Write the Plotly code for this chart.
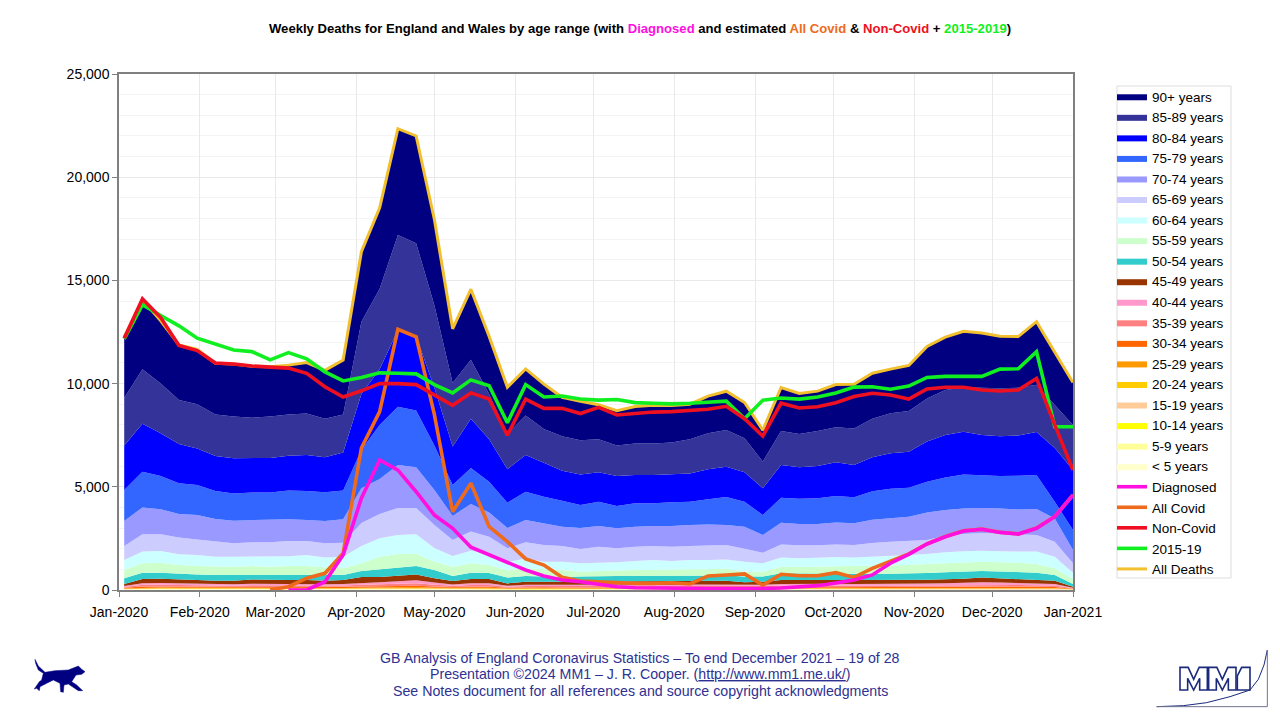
import pandas as pd
import plotly.graph_objects as go

weeks = pd.date_range("2020-01-03", periods=53, freq="7D")

# Cumulative band tops read from the stacked areas (deaths per week)
top_90_plus = [12254,14058,13045,11869,11653,10986,10944,10841,10816,10895,11019,10645,11141,16387,18516,22351,21997,17953,12657,14573,12288,9824,10709,9976,9339,9140,8979,8690,8891,8946,8945,9000,9392,9631,9083,7739,9811,9523,9634,9954,9970,10500,10700,10880,11800,12250,12530,12450,12300,12280,13000,11500,10050]
top_85_89 = [9300,10700,10000,9200,9000,8500,8400,8350,8400,8500,8550,8300,8500,13000,14600,17200,16800,13800,10030,11150,9500,7550,8450,7800,7450,7250,7300,7000,7100,7100,7150,7300,7600,7750,7350,6220,7700,7560,7700,7880,7830,8300,8560,8670,9280,9690,9820,9800,9780,9800,9950,8960,8000]
top_80_84 = [7000,8050,7600,7070,6860,6490,6380,6400,6400,6500,6540,6430,6660,9500,10700,12600,12300,9800,6950,8300,7300,5850,6540,6170,5780,5600,5700,5520,5570,5570,5600,5650,5850,5970,5700,4930,6060,5950,6010,6190,6060,6430,6620,6700,7190,7510,7670,7510,7450,7480,7660,6880,5810]
top_75_79 = [4850,5730,5520,5170,5090,4800,4680,4720,4720,4820,4800,4740,4820,6800,8000,8880,8700,7000,5090,5910,5250,4230,4760,4520,4330,4120,4280,4070,4200,4200,4250,4280,4400,4500,4280,3630,4470,4420,4450,4560,4490,4780,4900,4950,5250,5450,5590,5570,5520,5540,5570,4280,2910]
top_70_74 = [3340,4000,3910,3680,3630,3440,3360,3390,3390,3430,3390,3340,3430,4930,5380,6060,5950,4850,3590,4170,3750,3000,3390,3230,3070,3000,3100,2990,3070,3100,3100,3150,3170,3150,3070,2670,3260,3200,3200,3270,3230,3400,3480,3550,3750,3870,3950,3970,3950,3900,3920,3470,1940]
top_65_69 = [2130,2700,2700,2540,2450,2340,2260,2310,2310,2370,2370,2260,2290,3250,3680,3970,3970,3150,2420,2830,2580,2020,2310,2180,2130,1990,2100,2020,2100,2130,2100,2130,2150,2180,2000,1810,2210,2170,2170,2200,2180,2280,2340,2380,2420,2620,2710,2760,2720,2690,2670,2340,1300]
top_60_64 = [1450,1860,1890,1730,1700,1610,1610,1610,1610,1640,1700,1580,1610,2130,2510,2670,2700,2030,1650,1900,1740,1350,1530,1370,1370,1300,1320,1340,1400,1450,1400,1450,1450,1480,1370,1290,1570,1540,1560,1600,1580,1630,1660,1700,1740,1830,1880,1900,1880,1860,1860,1610,840]
top_55_59 = [970,1290,1320,1210,1160,1130,1130,1160,1130,1160,1160,1100,1050,1290,1610,1740,1760,1370,1130,1290,1210,950,1050,1000,970,890,920,920,970,970,970,1000,1010,1030,890,890,1130,1120,1130,1150,1160,1170,1190,1210,1260,1300,1340,1370,1340,1320,1260,1050,530]
top_50_54 = [570,840,840,780,750,730,730,750,750,750,750,730,730,920,1000,1050,1160,970,680,840,820,600,680,650,620,650,680,680,680,680,680,700,700,700,650,650,810,800,800,790,780,780,790,800,820,860,890,920,900,880,840,730,290]
top_45_49 = [290,530,550,500,480,450,450,510,480,480,480,450,480,630,630,680,750,570,440,530,530,320,400,400,390,400,440,400,420,420,420,440,440,450,380,400,480,490,480,490,480,480,490,490,500,520,540,600,560,530,500,450,160]
top_40_44 = [190,330,340,320,300,280,280,300,290,290,290,280,290,350,380,420,470,360,270,330,330,210,260,260,250,260,270,260,270,260,260,270,270,270,240,250,290,300,290,300,290,290,300,300,310,330,350,380,360,340,320,290,110]
top_35_39 = [150,250,260,240,225,215,210,225,220,220,220,210,215,260,280,300,330,260,205,240,240,160,195,190,185,190,195,190,195,190,190,195,200,200,180,185,215,220,215,220,215,215,220,220,225,240,255,270,260,245,235,215,85]
top_30_34 = [105,165,170,160,150,145,140,150,145,145,145,140,145,170,185,195,210,170,140,160,160,110,130,130,125,130,130,130,130,130,130,130,135,135,120,125,145,150,145,150,145,145,150,150,150,160,170,180,170,165,155,145,60]
top_25_29 = [75,115,120,110,105,100,100,105,100,100,100,100,100,115,125,130,140,115,95,110,110,75,90,90,85,90,90,90,90,90,90,90,90,90,85,85,100,100,100,100,100,100,100,100,105,110,115,120,115,110,105,100,45]
top_20_24 = [55,85,85,80,75,75,72,75,72,72,72,72,72,80,85,90,95,80,68,78,78,55,65,65,62,65,65,65,65,65,65,65,65,65,60,62,70,72,72,72,72,72,72,72,75,78,80,85,80,78,75,72,35]
top_15_19 = [44,66,66,62,60,58,56,58,56,56,56,56,56,62,66,70,74,62,53,60,60,43,50,50,48,50,50,50,50,50,50,50,50,50,47,48,54,56,56,56,56,56,56,56,58,60,62,66,62,60,58,56,28]
top_10_14 = [40,60,60,56,54,52,50,52,50,50,50,50,50,56,60,63,66,56,48,54,54,39,45,45,44,45,45,45,45,45,45,45,45,45,42,43,49,50,50,50,50,50,50,50,52,54,56,59,56,54,52,50,25]
top_5_9 = [36,55,55,51,49,47,46,47,46,46,46,46,46,51,54,57,60,51,43,49,49,35,41,41,40,41,41,41,41,41,41,41,41,41,38,39,44,45,45,45,45,45,45,45,47,49,51,54,51,49,47,45,22]
top_under_5 = [32,50,50,46,44,43,42,43,42,42,42,42,42,46,49,52,55,46,39,44,44,32,37,37,36,37,37,37,37,37,37,37,37,37,35,35,40,41,41,41,41,41,41,41,43,45,46,49,46,45,43,41,20]

diagnosed = [None,None,None,None,None,None,None,None,None,0,0,400,1700,4450,6300,5810,4760,3630,2990,2070,1700,1320,970,680,480,400,290,160,110,90,75,70,70,65,60,70,100,160,210,340,480,730,1300,1730,2230,2580,2860,2940,2790,2710,2990,3550,4600]
all_covid = [None,None,None,None,None,None,None,None,0,160,570,810,1780,6880,8640,12630,12270,8500,3790,5170,3070,2340,1510,1210,620,430,400,350,320,320,350,290,680,730,780,240,760,690,690,840,610,1050,1420,1750,2240,2590,2870,2950,2800,2720,3000,3560,4610]
non_covid = [12200,14100,13200,11850,11600,11000,10950,10850,10800,10750,10500,9850,9350,9650,10000,10000,9950,9450,8950,9550,9250,7500,9250,8800,8800,8550,8850,8480,8560,8620,8640,8700,8760,8900,8300,7460,9050,8820,8880,9070,9370,9530,9450,9250,9740,9820,9820,9690,9640,9690,10250,8000,5810]
avg_2015_19 = [12170,13820,13300,12800,12200,11900,11630,11550,11150,11500,11200,10570,10130,10300,10520,10500,10470,9950,9550,10180,9900,8100,9950,9350,9400,9250,9200,9230,9080,9050,9020,9050,9100,9150,8300,9200,9300,9250,9350,9550,9830,9850,9730,9880,10300,10350,10350,10350,10700,10720,11550,7910,7910]
all_deaths = top_90_plus

band_names = ["90+ years","85-89 years","80-84 years","75-79 years","70-74 years","65-69 years","60-64 years","55-59 years","50-54 years","45-49 years","40-44 years","35-39 years","30-34 years","25-29 years","20-24 years","15-19 years","10-14 years","5-9 years","< 5 years"]
band_tops = [top_90_plus,top_85_89,top_80_84,top_75_79,top_70_74,top_65_69,top_60_64,top_55_59,top_50_54,top_45_49,top_40_44,top_35_39,top_30_34,top_25_29,top_20_24,top_15_19,top_10_14,top_5_9,top_under_5]
band_colors = ["#000080","#333399","#0000FF","#3366FF","#9999FF","#CCCCFF","#CCFFFF","#CCFFCC","#33CCCC","#993300","#FF99CC","#FF8080","#FF6600","#FF9900","#FFCC00","#FFCC99","#FFFF00","#FFFF99","#FFFFCC"]

FONT = "Liberation Sans"
PL, PR, PT, PB = 119, 1073, 74, 590
def px(x): return (x - PL) / (PR - PL)
def py(y): return (PB - y) / (PB - PT)

fig = go.Figure()
for rank in range(len(band_names) - 1, -1, -1):
    fig.add_trace(go.Scatter(
        x=weeks, y=band_tops[rank], name=band_names[rank], mode="lines",
        line=dict(width=0, color=band_colors[rank]), fillcolor=band_colors[rank],
        fill="tozeroy" if rank == len(band_names) - 1 else "tonexty",
        legendrank=rank + 1, hoverinfo="x+y+name"))

lines = [("All Deaths", all_deaths, "#F2BF2E", 3, 24),
         ("All Covid", all_covid, "#EE6A1C", 3.6, 21),
         ("Diagnosed", diagnosed, "#FF10E0", 3.6, 20),
         ("2015-19", avg_2015_19, "#10F020", 3.6, 23),
         ("Non-Covid", non_covid, "#EE1020", 3.6, 22)]
for name, vals, color, width, rank in lines:
    fig.add_trace(go.Scatter(x=weeks, y=vals, name=name, mode="lines",
                             line=dict(color=color, width=width), legendrank=rank,
                             connectgaps=False))

# Logos, drawn as outlines in page pixels
def path(points, close=True, ox=0, oy=0):
    coords = [(px(ox + a / 3), py(oy + b / 3)) for a, b in points]
    d = "M" + " L".join(f"{a:.5f},{b:.5f}" for a, b in coords)
    return d + (" Z" if close else "")

dog = [(105,58),(115,78),(135,97),(165,92),(205,90),(235,78),(245,88),(255,95),(245,103),(228,105),(215,125),(230,135),(248,152),(235,152),(205,132),(192,135),(190,157),(182,155),(180,130),(160,120),(140,130),(120,140),(118,152),(110,145),(103,147),(118,125),(125,120),(130,100),(115,90),(107,70)]
def m_letter(x0, w):
    return [(x0,150),(x0,82),(x0+w*.3,82),(x0+w*.5,118),(x0+w*.7,82),(x0+w,82),(x0+w,150),(x0+w*.72,150),(x0+w*.72,115),(x0+w*.5,150),(x0+w*.28,115),(x0+w*.28,150)]
one = [(262,150),(262,108),(275,82),(300,82),(300,150)]
curve = [(20,200),(100,197),(170,188),(240,170),(300,150),(325,118),(342,75),(352,30)]
axes = [(352,30),(352,200),(20,200)]
shapes = [dict(type="path", xref="paper", yref="paper", path=path(dog, True, 0, 640), fillcolor="#000080", line=dict(color="#000080", width=0.5), layer="above")]
for pts in (m_letter(90, 82), m_letter(176, 82), one):
    shapes.append(dict(type="path", xref="paper", yref="paper", path=path(pts, True, 1150, 640), fillcolor="#ffffff", line=dict(color="#1B2A7B", width=1.6)))
shapes.append(dict(type="path", xref="paper", yref="paper", path=path(curve, False, 1150, 640), line=dict(color="#1B2A7B", width=1)))
shapes.append(dict(type="path", xref="paper", yref="paper", path=path(axes, False, 1150, 640), line=dict(color="#6F7390", width=1)))
# Legend frame
shapes.append(dict(type="rect", xref="paper", yref="paper", x0=px(1117), x1=px(1231), y0=py(578), y1=py(86),
                   fillcolor="#ffffff", line=dict(color="#DDDDDD", width=1), layer="below"))

NAVY = "#2E3192"
title = ('<b>Weekly Deaths for England and Wales by age range (with '
         '<span style="color:#FF10E0">Diagnosed</span> and estimated '
         '<span style="color:#EE6A1C">All Covid</span> &amp; '
         '<span style="color:#EE1020">Non-Covid</span> + '
         '<span style="color:#10F020">2015-2019</span>)</b>')
footer = [("GB Analysis of England Coronavirus Statistics – To end December 2021 – 19 of 28", 658),
          ('Presentation ©2024 MM1 – J. R. Cooper. (<u>http://www.mm1.me.uk/</u>)', 674),
          ("See Notes document for all references and source copyright acknowledgments", 691)]
annotations = [dict(text=title, xref="paper", yref="paper", x=px(640), y=py(28), showarrow=False,
                    xanchor="center", yanchor="middle", font=dict(family=FONT, size=13.1, color="#000000"))]
for text, y in footer:
    annotations.append(dict(text=text, xref="paper", yref="paper", x=px(640), y=py(y), showarrow=False,
                            xanchor="center", yanchor="middle", font=dict(family=FONT, size=14.2, color=NAVY)))

fig.update_layout(
    width=1280, height=719, margin=dict(l=PL, r=1280 - PR, t=PT, b=719 - PB, pad=0),
    paper_bgcolor="#ffffff", plot_bgcolor="#ffffff",
    font=dict(family=FONT, size=14, color="#000000"),
    showlegend=True,
    legend=dict(x=px(1112), y=py(81), xanchor="left", yanchor="top", bgcolor="rgba(0,0,0,0)",
                borderwidth=0, font=dict(family=FONT, size=13.5),
                itemwidth=30, traceorder="normal", tracegroupgap=0),
    xaxis=dict(type="date", range=["2020-01-01", "2021-01-01"], dtick="M1", tick0="2020-01-01",
               tickformat="%b-%Y", ticks="outside", ticklen=5, tickcolor="#808080",
               showline=True, linecolor="#808080", linewidth=1.5, mirror=True,
               showgrid=True, gridcolor="#E9E9E9", tickfont=dict(family=FONT, size=14), hoverformat="%d %b %Y",
               tickangle=0, zeroline=False, ticklabelstandoff=3),
    yaxis=dict(range=[0, 25000], dtick=5000, tickformat=",", ticks="outside", ticklen=5, tickcolor="#808080",
               showline=True, linecolor="#808080", linewidth=1.5, mirror=True,
               showgrid=True, gridcolor="#E9E9E9",
               minor=dict(dtick=1000, showgrid=True, gridcolor="#F4F4F4", ticks=""),
               tickfont=dict(family=FONT, size=14), zeroline=False),
    shapes=shapes, annotations=annotations,
)
fig.write_html("out.html", config={"displayModeBar": False},
               post_script="document.body.style.margin='0';")
